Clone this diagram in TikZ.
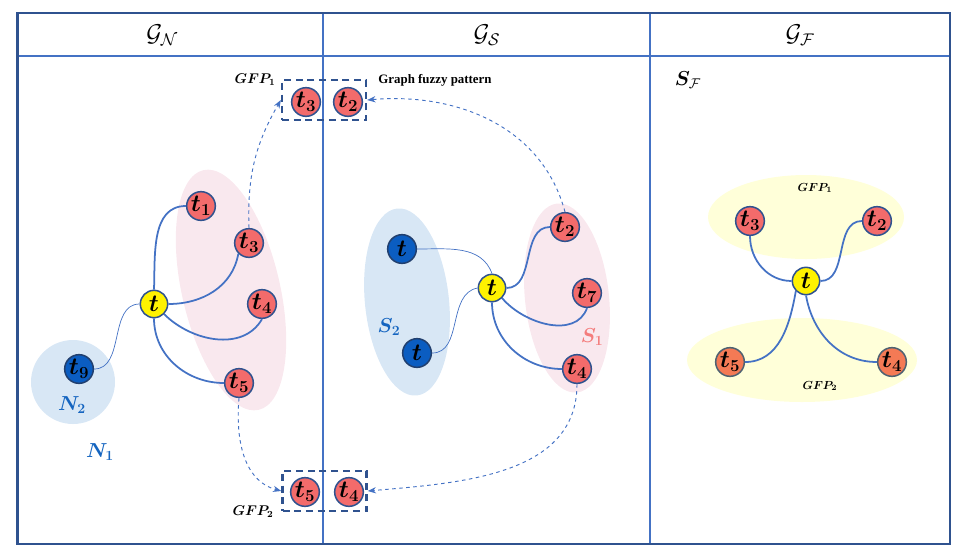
\documentclass[tikz,border=0pt]{standalone}
\usepackage{amsmath, amssymb, bm}
\usepackage{fontspec}
\newfontfamily\notefont{Liberation Serif}
\usepackage{tikz}
\usetikzlibrary{arrows.meta, positioning}

\definecolor{frameblue}{HTML}{4472C4}
\definecolor{darkframe}{HTML}{2F528F}
\definecolor{nodeborder}{HTML}{22406F}
\definecolor{nodered}{HTML}{F36B6B}
\definecolor{nodeblue}{HTML}{0B5DC1}
\definecolor{nodeorange}{HTML}{F47A55}
\definecolor{orangeborder}{HTML}{4F6272}
\definecolor{pinkset}{HTML}{F9E8EE}
\definecolor{blueset}{HTML}{D8E7F5}
\definecolor{yellowset}{HTML}{FFFFD9}
\definecolor{labelblue}{HTML}{1565C0}
\definecolor{labelpink}{HTML}{F47C7C}

\begin{document}
\begin{tikzpicture}[
    x=0.3mm, y=-0.3mm,
    term/.style={circle, draw=darkframe, line width=1.3pt, minimum size=8.6mm, inner sep=0pt, font=\huge},
    redterm/.style={term, fill=nodered},
    blueterm/.style={term, fill=nodeblue, draw=nodeborder},
    yellowterm/.style={term, fill=yellow, minimum size=8.2mm},
    orangeterm/.style={term, fill=nodeorange, draw=orangeborder},
    link/.style={draw=frameblue, line width=1.5pt},
    thinlink/.style={draw=frameblue, line width=0.6pt},
    dashlink/.style={draw=frameblue, dashed, line width=0.8pt, -{Stealth[length=2.5mm]}},
    gfpbox/.style={draw=darkframe, line width=2pt, dash pattern=on 6pt off 4pt, minimum width=25.2mm, minimum height=12mm, inner sep=0pt},
    setlabel/.style={font=\LARGE},
    gfplabel/.style={font=\large}
    ]
    \useasboundingbox (0,0) rectangle (967,558);

    % Sets (background)
    \fill[pinkset, rotate around={13:(231,290)}] (231,290) ellipse [x radius=49, y radius=123];
    \fill[blueset] (73,382) circle [radius=42];
    \fill[blueset, rotate around={6:(407,302)}] (407,302) ellipse [x radius=42, y radius=94];
    \fill[pinkset, rotate around={6:(567,298)}] (567,298) ellipse [x radius=42, y radius=95];
    \fill[yellowset] (806,217) ellipse [x radius=98, y radius=42];
    \fill[yellowset] (802,360) ellipse [x radius=115, y radius=42];

    % Frame
    \draw[frameblue, line width=1.8pt] (17.5,56) -- (950,56);
    \draw[frameblue, line width=1.8pt] (323,13) -- (323,544);
    \draw[frameblue, line width=1.8pt] (650,13) -- (650,544);
    \draw[darkframe, line width=1.8pt] (17.5,13) rectangle (950,544);

    % Headers
    \node (hN) at (162,35) {\huge $\mathcal{G}_{\mathcal{N}}$};
    \node (hS) at (487,35) {\huge $\mathcal{G}_{\mathcal{S}}$};
    \node (hF) at (800,35) {\huge $\mathcal{G}_{\mathcal{F}}$};

    % Fuzzy pattern boxes
    \node[gfpbox] (box1) at (324,100) {};
    \node[gfpbox] (box2) at (324.5,491) {};
    \node[gfplabel] (gfp1) at (255,80) {$\bm{GFP_1}$};
    \node[gfplabel] (gfp2) at (253,512) {$\bm{GFP_2}$};
    \node (gfptext) at (435,80) {\notefont\fontsize{11}{13}\selectfont\bfseries Graph fuzzy pattern};
    \node[redterm] (bx3) at (306,102) {$\bm{t_3}$};
    \node[redterm] (bx2) at (348,102) {$\bm{t_2}$};
    \node[redterm] (bx5) at (305,492) {$\bm{t_5}$};
    \node[redterm] (bx4) at (349,492) {$\bm{t_4}$};

    % Neighbourhood graph
    \node[yellowterm] (tN)  at (154,304) {$\bm{t}$};
    \node[redterm]    (tN1) at (201,206) {$\bm{t_1}$};
    \node[redterm]    (tN3) at (249,243) {$\bm{t_3}$};
    \node[redterm]    (tN4) at (262,304) {$\bm{t_4}$};
    \node[redterm]    (tN5) at (239,383) {$\bm{t_5}$};
    \node[blueterm]   (tN9) at (79,369)  {$\bm{t_9}$};
    \node[setlabel, text=labelblue] (lN2) at (72,405) {$\bm{N_2}$};
    \node[setlabel, text=labelblue] (lN1) at (100,452) {$\bm{N_1}$};

    \draw[link] (tN.north) to[out=88, in=180] (tN1.west);
    \draw[link] (tN.east) to[out=0, in=-100] (tN3.south west);
    \draw[link] (tN.south east) to[out=-45, in=-120] (tN4.south);
    \draw[link] (tN.south) to[out=-90, in=180] (tN5.west);
    \draw[thinlink] (tN.west) to[out=180, in=0] (tN9.east);

    % Similarity graph
    \node[yellowterm] (tS)  at (492,288) {$\bm{t}$};
    \node[blueterm]   (bS1) at (402,249) {$\bm{t}$};
    \node[blueterm]   (bS2) at (417,353) {$\bm{t}$};
    \node[redterm]    (tS2) at (565,227) {$\bm{t_2}$};
    \node[redterm]    (tS7) at (587,293) {$\bm{t_7}$};
    \node[redterm]    (tS4) at (577,369) {$\bm{t_4}$};
    \node[setlabel, text=labelblue] (lS2) at (389,327) {$\bm{S_2}$};
    \node[setlabel, text=labelpink] (lS1) at (592,337) {$\bm{S_1}$};

    \draw[thinlink] (bS1.east) to[out=0, in=110] (tS.north);
    \draw[thinlink] (bS2.east) to[out=0, in=190] (tS.west);
    \draw[link] (tS.east) to[out=0, in=180] (tS2.west);
    \draw[link] (tS.south east) to[out=-50, in=-110] (tS7.south);
    \draw[link] (tS.south) to[out=-90, in=180] (tS4.west);

    % Fuzzy graph
    \node[setlabel] (lSF) at (688,80) {$\bm{S}_{\mathcal{F}}$};
    \node[gfplabel] (fgfp1) at (815,188) {\normalsize $\bm{GFP_1}$};
    \node[gfplabel] (fgfp2) at (820,386) {\normalsize $\bm{GFP_2}$};
    \node[yellowterm] (tF)  at (806,281) {$\bm{t}$};
    \node[redterm]    (tF3) at (750,221) {$\bm{t_3}$};
    \node[redterm]    (tF2) at (877,221) {$\bm{t_2}$};
    \node[orangeterm] (tF5) at (730,362) {$\bm{t_5}$};
    \node[orangeterm] (tF4) at (892,362) {$\bm{t_4}$};

    \draw[link] (tF3.south) to[out=-90, in=180] (tF.west);
    \draw[link] (tF.east) to[out=0, in=180] (tF2.west);
    \draw[link] (tF.south west) to[out=-100, in=0] (tF5.east);
    \draw[link] (tF.south) to[out=-80, in=180] (tF4.west);

    % Pattern extraction
    \draw[dashlink] (tN3.north) to[out=92, in=-120] (box1.west);
    \draw[dashlink] (tS2.north) to[out=105, in=5] (box1.east);
    \draw[dashlink] (tN5.south) to[out=-95, in=165] (box2.west);
    \draw[dashlink] (tS4.south) to[out=-90, in=5] (box2.east);
\end{tikzpicture}
\end{document}
